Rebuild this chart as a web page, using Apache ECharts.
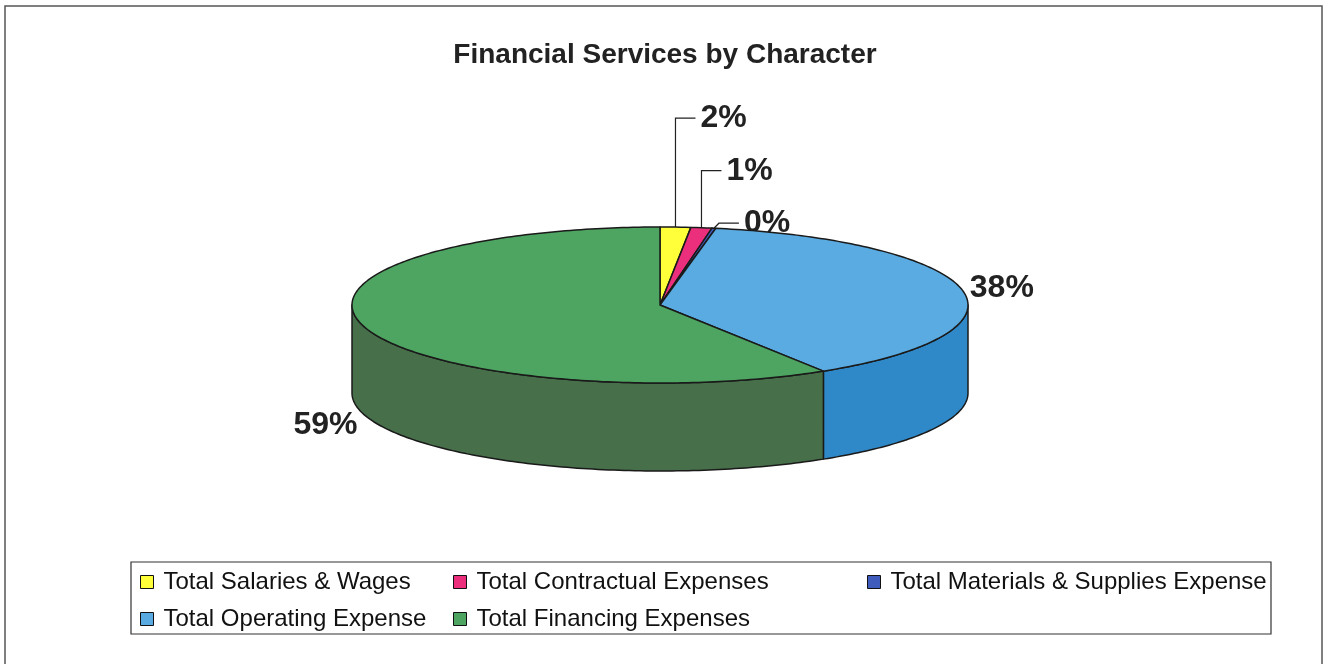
<!DOCTYPE html>
<html>
<head>
<meta charset="utf-8">
<title>Financial Services by Character</title>
<script src="https://cdn.jsdelivr.net/npm/echarts@6/dist/echarts.min.js"></script>
<style>
  html, body { margin: 0; padding: 0; background: #fff; }
  #chart { width: 1330px; height: 664px; }
</style>
</head>
<body>
<div id="chart"></div>
<script>
// slice data (share of total)
const categories = [
  "Total Salaries & Wages",
  "Total Contractual Expenses",
  "Total Materials & Supplies Expense",
  "Total Operating Expense",
  "Total Financing Expenses"
];
const values = [1.6, 1.1, 0.2, 38.2, 58.9];
const topColors = ["#ffff3a", "#ec2f7d", "#3f5cbd", "#5aabe1", "#4ea461"];
const sideColors = ["#d6d628", "#b8225f", "#2e4590", "#2f88c7", "#476f4a"];

const chart = echarts.init(document.getElementById("chart"));

// pie geometry (layout only)
const cx = 660, cy = 305, rx = 308, ry = 78, depth = 88;
const total = values.reduce((a, b) => a + b, 0);
const starts = [];
values.reduce((acc, v, i) => { starts[i] = acc; return acc + v / total; }, 0);
const smallIdx = values.map((v, i) => i).filter(i => values[i] / total < 0.05);

function pt(a, dy) {
  return [cx + rx * Math.sin(a), cy - ry * Math.cos(a) + (dy || 0)];
}
function arc(a0, a1, dy) {
  const n = Math.max(2, Math.ceil((a1 - a0) / (Math.PI / 180)));
  const pts = [];
  for (let k = 0; k <= n; k++) pts.push(pt(a0 + (a1 - a0) * k / n, dy));
  return pts;
}

function renderSlice(params, api) {
  const i = params.seriesIndex;
  const frac = api.value(0) / total;
  const a0 = starts[i] * 2 * Math.PI;
  const a1 = (starts[i] + frac) * 2 * Math.PI;
  const mid = (a0 + a1) / 2;
  const children = [];
  const edge = { stroke: "#1a1a1a", lineWidth: 1.5, lineJoin: "round" };

  // outer wall, only the front half shows
  const s = Math.max(a0, Math.PI / 2), e = Math.min(a1, Math.PI * 1.5);
  if (e > s) {
    children.push({
      type: "polygon",
      z2: 5,
      shape: { points: arc(s, e, 0).concat(arc(s, e, depth).reverse()) },
      style: Object.assign({ fill: sideColors[i] }, edge)
    });
  }

  // top face
  children.push({
    type: "polygon",
    z2: 10,
    shape: { points: [[cx, cy]].concat(arc(a0, a1, 0)) },
    style: Object.assign({ fill: topColors[i] }, edge)
  });

  // percent label
  const txt = Math.round(frac * 100) + "%";
  const font = { fontSize: 32, fontWeight: "bold", fontFamily: "Liberation Sans, Arial", fill: "#222" };
  const rank = smallIdx.indexOf(i);
  if (rank >= 0) {
    const anc = pt(mid, 0);
    const ly = anc[1] - 5 - 52 * (smallIdx.length - 1 - rank);
    const vx = anc[0] + (rank === smallIdx.length - 1 ? 5 : 0);
    children.push({
      type: "polyline",
      z2: 1,
      shape: { points: [anc, [vx, ly], [vx + 20, ly]] },
      style: { stroke: "#222", lineWidth: 1.2, fill: null }
    });
    children.push({
      type: "text",
      z2: 1,
      style: Object.assign({ text: txt, x: vx + 25, y: ly, textAlign: "left", textVerticalAlign: "middle" }, font)
    });
  } else {
    const lx = cx + Math.sin(mid) * (rx + 40);
    const ly = cy - Math.cos(mid) * (ry + 40) + (Math.cos(mid) < 0 ? depth : 5);
    children.push({
      type: "text",
      z2: 1,
      style: Object.assign({ text: txt, x: lx, y: ly, textAlign: "center", textVerticalAlign: "middle" }, font)
    });
  }
  return { type: "group", children: children };
}

const legendBase = {
  orient: "vertical",
  top: 570,
  padding: 0,
  itemWidth: 13,
  itemHeight: 13,
  itemGap: 13,
  selectedMode: false,
  icon: "rect",
  itemStyle: { borderColor: "#111", borderWidth: 1 },
  textStyle: {
    fontSize: 24,
    lineHeight: 24,
    color: "#111",
    fontFamily: "Liberation Sans, Arial",
    padding: [0, 0, 0, 5]
  }
};

const option = {
  animation: false,
  backgroundColor: "#fff",
  title: {
    text: "Financial Services by Character",
    left: "center",
    top: 36,
    textStyle: { fontSize: 28, fontWeight: "bold", color: "#222", fontFamily: "Liberation Sans, Arial" }
  },
  legend: [
    Object.assign({ left: 140, data: [categories[0], categories[3]] }, legendBase),
    Object.assign({ left: 453, data: [categories[1], categories[4]] }, legendBase),
    Object.assign({ left: 867, data: [categories[2]] }, legendBase)
  ],
  graphic: [
    {
      type: "rect",
      shape: { x: 5, y: 6, width: 1317, height: 720 },
      style: { fill: null, stroke: "#555", lineWidth: 1.5 },
      silent: true
    },
    {
      type: "rect",
      shape: { x: 131, y: 562, width: 1140, height: 72 },
      style: { fill: null, stroke: "#333", lineWidth: 1.2 },
      silent: true
    }
  ],
  series: categories.map((name, i) => ({
    type: "custom",
    name: name,
    coordinateSystem: "none",
    itemStyle: { color: topColors[i] },
    renderItem: renderSlice,
    data: [[values[i]]]
  }))
};

chart.setOption(option);
</script>
</body>
</html>
